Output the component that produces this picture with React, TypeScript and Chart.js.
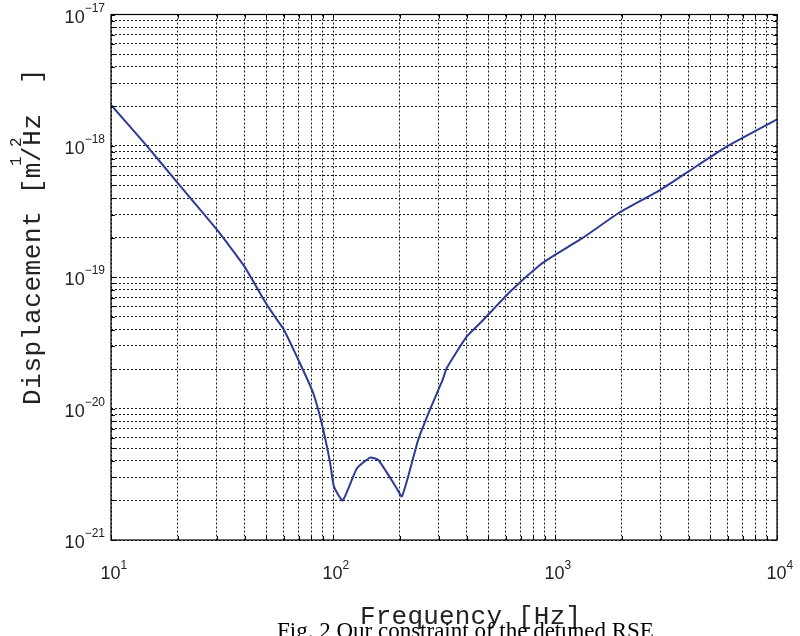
import React, { useEffect, useRef } from "react";
import { Chart, registerables } from "chart.js";

Chart.register(...registerables);

// Data (frequency in Hz, displacement in m/Hz^1/2)
const freqHz = [10, 14.5, 20, 30, 40, 50, 55.7, 60, 72, 81.5, 89, 97, 101, 110.6, 128, 147, 160, 177.5, 193.5, 204, 218, 242, 273, 312, 325, 400, 475, 627, 855, 1000, 1343, 1928, 2972, 3985, 5930, 10000];
const displacement = [2.05e-18, 1.0e-18, 5.2e-19, 2.3e-19, 1.2e-19, 6.3e-20, 4.8e-20, 4.0e-20, 2.1e-20, 1.31e-20, 7.7e-21, 3.9e-21, 2.55e-21, 2.0e-21, 3.5e-21, 4.24e-21, 4.07e-21, 3.13e-21, 2.48e-21, 2.14e-21, 3.04e-21, 5.78e-21, 9.77e-21, 1.66e-20, 2.03e-20, 3.53e-20, 4.73e-20, 7.76e-20, 1.24e-19, 1.48e-19, 2.01e-19, 3.07e-19, 4.61e-19, 6.37e-19, 9.86e-19, 1.59e-18];

const xTickExponents = [1, 2, 3, 4];
const yTickExponents = [-17, -18, -19, -20, -21];
const minorMultipliers = [1, 2, 3, 4, 5, 6, 7, 8, 9];

const xLabel = "Frequency [Hz]";
const yLabelMain = "Displacement [m/Hz";
const yLabelClose = "]";
const caption = "Fig. 2 Our constraint of the detuned RSE";

function logTicks(exps: number[]) {
  const lo = Math.min(...exps);
  const hi = Math.max(...exps);
  const out: { value: number }[] = [];
  for (let e = lo; e < hi; e++) {
    for (const m of minorMultipliers) out.push({ value: parseFloat((m * Math.pow(10, e)).toPrecision(3)) });
  }
  out.push({ value: Math.pow(10, hi) });
  return out;
}

const decorPlugin = {
  id: "decor",
  beforeDraw(chart: any) {
    const ctx = chart.ctx;
    ctx.save();
    ctx.fillStyle = "#fff";
    ctx.fillRect(0, 0, chart.width, chart.height);
    ctx.restore();
  },
  afterDraw(chart: any) {
    const ctx = chart.ctx;
    const { left, right, top, bottom } = chart.chartArea;
    const xs = chart.scales.x;
    const ys = chart.scales.y;
    ctx.save();
    // box
    ctx.strokeStyle = "#000";
    ctx.lineWidth = 1.2;
    ctx.setLineDash([]);
    ctx.strokeRect(left, top, right - left, bottom - top);
    // inward tick marks
    ctx.lineWidth = 1;
    const tl = 4;
    for (const t of xs.ticks) {
      const px = Math.round(xs.getPixelForValue(t.value)) + 0.5;
      ctx.beginPath();
      ctx.moveTo(px, bottom); ctx.lineTo(px, bottom - tl);
      ctx.moveTo(px, top); ctx.lineTo(px, top + tl);
      ctx.stroke();
    }
    for (const t of ys.ticks) {
      const py = Math.round(ys.getPixelForValue(t.value)) + 0.5;
      ctx.beginPath();
      ctx.moveTo(left, py); ctx.lineTo(left + tl, py);
      ctx.moveTo(right, py); ctx.lineTo(right - tl, py);
      ctx.stroke();
    }
    // tick labels
    ctx.fillStyle = "#222";
    const baseFont = "18px 'Liberation Sans', Arial, sans-serif";
    const supFont = "12px 'Liberation Sans', Arial, sans-serif";
    for (const e of yTickExponents) {
      const py = ys.getPixelForValue(Math.pow(10, e));
      const expStr = "\u2212" + String(Math.abs(e));
      ctx.font = supFont;
      ctx.textAlign = "right";
      ctx.textBaseline = "alphabetic";
      const ew = ctx.measureText(expStr).width;
      ctx.fillText(expStr, 105, py - 3);
      ctx.font = baseFont;
      ctx.fillText("10", 105 - ew, py + 8);
    }
    for (const e of xTickExponents) {
      const px = xs.getPixelForValue(Math.pow(10, e));
      ctx.font = baseFont;
      ctx.textAlign = "right";
      ctx.fillText("10", px + 9.5, 579);
      ctx.font = supFont;
      ctx.textAlign = "left";
      ctx.fillText(String(e), px + 9.5, 569);
    }
    // x axis title
    ctx.fillStyle = "#222";
    ctx.font = "26px 'Liberation Mono', 'Courier New', monospace";
    ctx.textAlign = "left";
    (ctx as any).letterSpacing = "0.2px";
    ctx.fillText(xLabel, 360, 624);
    // y axis title (rotated)
    ctx.save();
    ctx.translate(40, 405);
    ctx.rotate(-Math.PI / 2);
    (ctx as any).letterSpacing = "0.6px";
    ctx.fillText(yLabelMain, 0, 0);
    ctx.restore();
    ctx.save();
    ctx.translate(40, 84);
    ctx.rotate(-Math.PI / 2);
    ctx.fillText(yLabelClose, 0, 0);
    ctx.restore();
    // superscript 1 and 2
    ctx.font = "16px 'Liberation Mono', 'Courier New', monospace";
    (ctx as any).letterSpacing = "0px";
    ctx.save();
    ctx.translate(21, 166);
    ctx.rotate(-Math.PI / 2);
    ctx.fillText("1", 0, 0);
    ctx.restore();
    ctx.save();
    ctx.translate(21, 147);
    ctx.rotate(-Math.PI / 2);
    ctx.fillText("2", 0, 0);
    ctx.restore();
    // caption (cut off at the bottom in the reference)
    ctx.fillStyle = "#000";
    ctx.font = "23px 'Liberation Serif', 'Times New Roman', serif";
    ctx.textAlign = "left";
    ctx.fillText(caption, 277, 638);
    ctx.restore();
  },
};

export default function App() {
  const ref = useRef<HTMLCanvasElement | null>(null);
  useEffect(() => {
    const canvas = ref.current;
    if (!canvas) return;
    const points = freqHz.map((f, i) => ({ x: f, y: displacement[i] }));
    const gridCommon = {
      display: true,
      drawTicks: false,
      color: "rgba(0,0,0,0.9)",
      lineWidth: 1,
    };
    const chart = new Chart(canvas, {
      type: "line",
      data: {
        datasets: [
          {
            data: points,
            borderColor: "#2e3b96",
            borderWidth: 2,
            pointRadius: 0,
            tension: 0.15,
            fill: false,
          },
        ],
      },
      options: {
        animation: false,
        responsive: false,
        devicePixelRatio: 1,
        layout: { padding: { left: 111, right: 23, top: 14.5, bottom: 96 } },
        plugins: { legend: { display: false }, tooltip: { enabled: false } },
        scales: {
          x: {
            type: "logarithmic",
            min: Math.pow(10, Math.min(...xTickExponents)),
            max: Math.pow(10, Math.max(...xTickExponents)),
            afterBuildTicks: (s: any) => { s.ticks = logTicks(xTickExponents); },
            ticks: { display: false },
            grid: gridCommon,
            border: { display: false, dash: [2, 2] },
          },
          y: {
            type: "logarithmic",
            min: Math.pow(10, Math.min(...yTickExponents)),
            max: Math.pow(10, Math.max(...yTickExponents)),
            afterBuildTicks: (s: any) => { s.ticks = logTicks(yTickExponents); },
            ticks: { display: false },
            grid: gridCommon,
            border: { display: false, dash: [2, 2] },
          },
        },
      } as any,
      plugins: [decorPlugin],
    });
    return () => chart.destroy();
  }, []);
  return (
    <canvas
      ref={ref}
      width={800}
      height={636}
      style={{ position: "fixed", left: 0, top: 0, width: 800, height: 636 }}
    />
  );
}
